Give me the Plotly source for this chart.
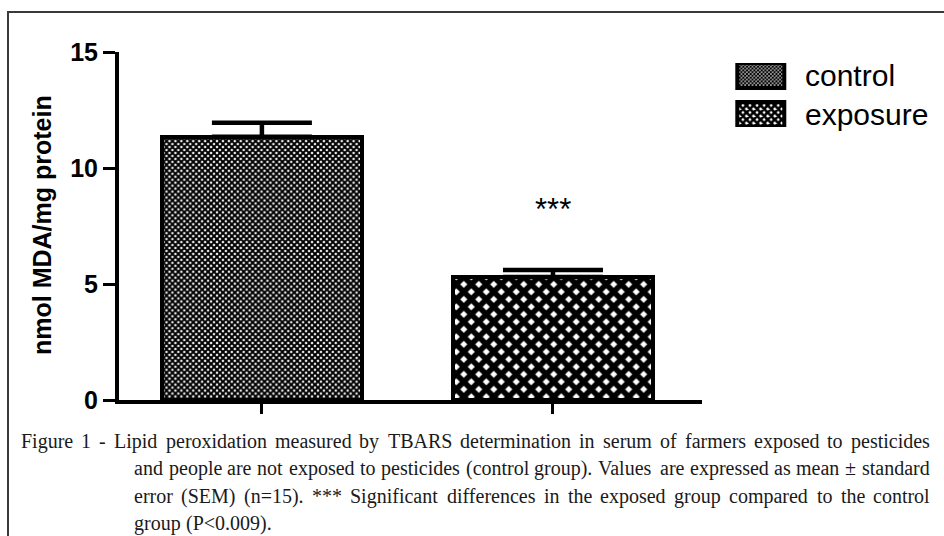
import plotly.graph_objects as go

# ---------------- data ----------------
categories = ["control", "exposure"]
means = [11.35, 5.3]
sem_plus = [0.6, 0.3]
sem_minus = [0, 0]
y_ticks = [0, 5, 10, 15]
y_title = "nmol MDA/mg protein"
significance = ["", "***"]
significance_y = [None, 8.2]
legend_labels = ["control", "exposure"]
legend_swatch = [1, 1]
caption_lines = [
    "Figure 1 - Lipid peroxidation measured by TBARS determination in serum of farmers exposed to pesticides",
    "and people are not exposed to pesticides (control group). Values are expressed as mean \u00b1 standard",
    "error (SEM) (n=15). *** Significant differences in the exposed group compared to the control",
    "group (P<0.009).",
]

# ---------------- geometry helpers ----------------
W, H = 944, 536
def fx(p):
    return p / W
def fy(p):
    return 1 - p / H

# Times / Liberation Serif advance widths (per 1000 em)
TIMES = {
    ' ': 250, 'a': 444, 'b': 500, 'c': 444, 'd': 500, 'e': 444, 'f': 333, 'g': 500, 'h': 500,
    'i': 278, 'j': 278, 'k': 500, 'l': 278, 'm': 778, 'n': 500, 'o': 500, 'p': 500, 'q': 500,
    'r': 333, 's': 389, 't': 278, 'u': 500, 'v': 500, 'w': 722, 'x': 500, 'y': 500, 'z': 444,
    'A': 722, 'B': 667, 'C': 667, 'D': 722, 'E': 611, 'F': 556, 'G': 722, 'H': 722, 'I': 333,
    'J': 389, 'K': 722, 'L': 611, 'M': 889, 'N': 722, 'O': 722, 'P': 556, 'Q': 722, 'R': 667,
    'S': 556, 'T': 611, 'U': 722, 'V': 722, 'W': 944, 'X': 722, 'Y': 722, 'Z': 611,
    '.': 250, ',': 250, '(': 333, ')': 333, '-': 333, '=': 564, '<': 564, '\u00b1': 564,
    '*': 500, ':': 278,
}
def tw(s, size):
    return sum(TIMES.get(ch, 500) for ch in s) / 1000.0 * size

CAP_SIZE = 20
CAP_FONT = dict(family="Liberation Serif, Times New Roman, serif", size=CAP_SIZE, color="#1a1a1a")

pat_main = dict(shape="x", fgcolor="black", bgcolor="white",
                size=[4.2, 10.6], solidity=[0.72, 0.78], fillmode="replace")
pat_leg = dict(shape="x", fgcolor="black", bgcolor="white",
               size=[2.6, 5.0], solidity=[0.72, 0.78], fillmode="replace")

fig = go.Figure()

fig.add_trace(go.Bar(
    x=categories, y=means, width=0.687,
    marker=dict(color="white", line=dict(color="black", width=4), pattern=pat_main),
    error_y=dict(type="data", symmetric=False, array=sem_plus, arrayminus=sem_minus,
                 color="black", thickness=4.5, width=50),
    xaxis="x", yaxis="y", showlegend=False, hoverinfo="skip",
))

# legend swatches (tiny bars on an auxiliary axis so they carry the pattern)
fig.add_trace(go.Bar(
    y=legend_labels, x=legend_swatch, orientation="h", width=0.64,
    marker=dict(color="white", line=dict(color="black", width=4), pattern=pat_leg),
    xaxis="x2", yaxis="y2", showlegend=False, hoverinfo="skip",
))

ann = []
# y title
ann.append(dict(text="<b>" + y_title + "</b>", x=fx(42), y=fy(225), xref="paper", yref="paper",
                xanchor="center", yanchor="middle",
                textangle=-90, showarrow=False,
                font=dict(family="Liberation Sans, Arial", size=25, color="black")))
# significance
for c, s, yv in zip(categories, significance, significance_y):
    if s:
        ann.append(dict(text=s, x=c, y=yv, xref="x", yref="y", showarrow=False,
                        xanchor="center", yanchor="middle",
                        font=dict(family="Liberation Sans, Arial", size=31, color="black")))
# legend text
for lab, py in zip(legend_labels, [75, 114]):
    ann.append(dict(text=lab, x=fx(803), y=fy(py), xref="paper", yref="paper",
                    xanchor="left", yanchor="middle",
                    showarrow=False, font=dict(family="Liberation Sans, Arial", size=30, color="black")))

# caption, justified word by word
line_y = [441, 468, 496, 523]
line_left = [20, 133, 133, 133]
right = 929
for i, (line, py, left) in enumerate(zip(caption_lines, line_y, line_left)):
    words = line.split(" ")
    justify = i < len(caption_lines) - 1
    widths = [tw(w_, CAP_SIZE) for w_ in words]
    if justify and len(words) > 1:
        gap = (right - left - sum(widths)) / (len(words) - 1)
    else:
        gap = tw(" ", CAP_SIZE)
    x = left
    for w_, wd in zip(words, widths):
        ann.append(dict(text=w_, x=fx(x), y=fy(py), xref="paper", yref="paper", xanchor="left",
                        yanchor="middle", showarrow=False, font=CAP_FONT, borderpad=0))
        x += wd + gap

fig.update_layout(
    width=W, height=H,
    margin=dict(l=0, r=0, t=0, b=0, pad=0, autoexpand=False),
    paper_bgcolor="white", plot_bgcolor="white",
    bargap=0,
    xaxis=dict(domain=[fx(119), fx(702)], range=[-0.491, 1.512], type="category",
               showline=True, linewidth=4, linecolor="black", mirror=False,
               ticks="outside", ticklen=10, tickwidth=3, tickcolor="black",
               showticklabels=False, showgrid=False, zeroline=False, fixedrange=True),
    yaxis=dict(domain=[fy(400), fy(52)], range=[0, 15], tickvals=y_ticks,
               showline=True, linewidth=4, linecolor="black",
               ticks="outside", ticklen=12, tickwidth=3, tickcolor="black",
               tickfont=dict(family="Liberation Sans, Arial", size=25, color="black", weight="bold"),
               showgrid=False, zeroline=False, fixedrange=True),
    xaxis2=dict(domain=[fx(737 - 4.7), fx(784 + 4.7)], range=[-0.1, 1.1], anchor="y2",
                visible=False, fixedrange=True),
    yaxis2=dict(domain=[fy(127), fy(63)], range=[1.32, -0.32], anchor="x2", type="category",
                visible=False, fixedrange=True),
    annotations=ann,
    shapes=[dict(type="rect", xref="paper", yref="paper", x0=fx(8), x1=1.05, y0=-0.1, y1=fy(12),
                 line=dict(color="#3a3a3a", width=2), fillcolor="rgba(0,0,0,0)", layer="above")],
    showlegend=False,
)

fig.write_html(
    "out.html",
    config={"displayModeBar": False},
    post_script="document.body.style.margin='0';document.body.style.overflow='hidden';",
)
